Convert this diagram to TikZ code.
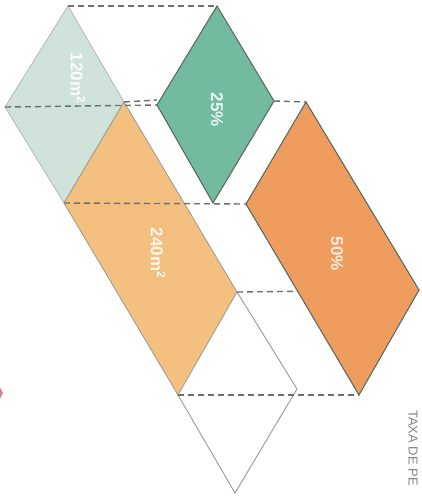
\documentclass[tikz,border=0pt]{standalone}
\usepackage{fontspec}
\setmainfont{Liberation Sans}
\definecolor{tealL}{HTML}{CFE3DA}
\definecolor{orangeL}{HTML}{F3C07F}
\definecolor{greenM}{HTML}{72BB9F}
\definecolor{orangeD}{HTML}{EE9D5F}
\definecolor{guide}{HTML}{6E6E6E}
\definecolor{edgeD}{HTML}{5E6A60}
\definecolor{redfrag}{HTML}{D9867C}
\begin{document}
\begin{tikzpicture}[x=1pt,y=-1pt,
  guideline/.style={draw=guide,line width=1.4pt,dash pattern=on 6pt off 4pt},
  lbl/.style={text=white,font=\bfseries\fontsize{17}{17}\selectfont,rotate=-90,inner sep=0pt}]
\path[use as bounding box] (0,0) rectangle (422,501);
\clip (0,0) rectangle (422,501);
\fill[white] (0,0) rectangle (422,501);
% vertices
\coordinate (T1) at (68,6);
\coordinate (T2) at (124,102);
\coordinate (T3) at (64,203);
\coordinate (T4) at (5,107);
\coordinate (O2) at (237,292);
\coordinate (O3) at (178,395);
\coordinate (W2) at (297,389);
\coordinate (W3) at (235,493);
\coordinate (G1) at (217,6);
\coordinate (G2) at (274,101);
\coordinate (G3) at (213,203);
\coordinate (G4) at (157,105);
\coordinate (P1) at (306,102);
\coordinate (P2) at (419,290);
\coordinate (P3) at (359,395);
\coordinate (P4) at (246,204);
\coordinate (T2r) at (157,100);
% shapes
\filldraw[fill=tealL,draw=guide!50,line width=0.8pt] (T1)--(T2)--(T3)--(T4)--cycle;
\filldraw[fill=orangeL,draw=guide!70,line width=0.8pt] (T2)--(O2)--(O3)--(T3)--cycle;
\draw[draw=guide!70,line width=0.9pt] (O2)--(W2)--(W3)--(O3);
\filldraw[fill=greenM,draw=edgeD,line width=1.1pt] (G1)--(G2)--(G3)--(G4)--cycle;
% guide lines
\draw[guideline] (T1)--(G1);
\draw[guideline] (T4)--(G4);
\draw[guideline] (T2)--(T2r);
\draw[guideline] (G2)--(P1);
\draw[guideline] (T3)--(P4);
\draw[guideline] (O2)--(P2);
\draw[guideline] (O3)--(P3);
\filldraw[fill=orangeD,draw=edgeD,line width=1.1pt] (P1)--(P2)--(P3)--(P4)--cycle;
% labels
\node[lbl,text=white!90!tealL] (l120) at (78,78) {120m\textsuperscript{2}};
\node[lbl,text=white!85!greenM] (l25) at (217,110) {25\%};
\node[lbl,text=white!85!orangeL] (l240) at (158,253) {240m\textsuperscript{2}};
\node[lbl,text=white!80!orangeD] (l50) at (337,254) {50\%};
\node[anchor=west,rotate=-90,text=guide!85,font=\fontsize{13}{13}\selectfont,inner sep=0pt] (tax) at (413,410) {TAXA DE PE};
% red fragment on left edge
\fill[redfrag] (-4,380)--(3,393)--(-4,406)--cycle;
\end{tikzpicture}
\end{document}
